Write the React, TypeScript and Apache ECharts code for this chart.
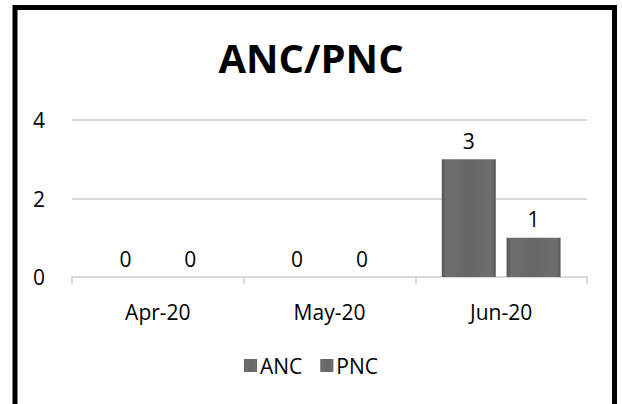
import React, { useEffect, useRef } from "react";
import * as echarts from "echarts";

const categories = ["Apr-20", "May-20", "Jun-20"];
const ancValues = [0, 0, 3];
const pncValues = [0, 0, 1];
const yTicks = { min: 0, max: 4, interval: 2 };

const font = "'Open Sans', 'DejaVu Sans', sans-serif";

const barFill = () =>
  new echarts.graphic.LinearGradient(0, 0, 1, 0, [
    { offset: 0, color: "#555555" },
    { offset: 0.08, color: "#6e6e6e" },
    { offset: 0.5, color: "#676767" },
    { offset: 0.92, color: "#6e6e6e" },
    { offset: 1, color: "#555555" },
  ]);

export default function App() {
  const ref = useRef<HTMLDivElement>(null);
  useEffect(() => {
    if (!ref.current) return;
    const chart = echarts.init(ref.current, undefined, { renderer: "svg" });
    const mkSeries = (name: string, data: number[]) => ({
      name,
      type: "bar",
      data,
      barWidth: 54,
      barGap: "20%",
      itemStyle: { color: barFill() },
      label: {
        show: true,
        position: "top",
        distance: 8,
        fontSize: 21,
        fontFamily: font,
        color: "#000",
      },
    });
    chart.setOption({
      animation: false,
      backgroundColor: "#fff",
      title: {
        text: "ANC/PNC",
        left: "center",
        top: 32,
        textStyle: { fontSize: 40, fontWeight: "bold", fontFamily: font, color: "#000" },
      },
      legend: {
        bottom: 23,
        left: "center",
        itemWidth: 13,
        itemHeight: 13,
        itemGap: 18,
        icon: "rect",
        textStyle: { fontSize: 21, fontFamily: font, color: "#000", padding: [0, 0, 0, -2] },
      },
      grid: { left: 72, right: 35, top: 120, bottom: 127 },
      xAxis: {
        type: "category",
        data: categories,
        axisLine: { lineStyle: { color: "#d9d9d9", width: 2 } },
        axisTick: { show: true, length: 7, lineStyle: { color: "#d9d9d9", width: 2 } },
        axisLabel: { fontSize: 21, fontFamily: font, color: "#000", margin: 24 },
      },
      yAxis: {
        type: "value",
        min: yTicks.min,
        max: yTicks.max,
        interval: yTicks.interval,
        axisLine: { show: false },
        axisTick: { show: false },
        splitLine: { lineStyle: { color: "#d9d9d9", width: 2 } },
        axisLabel: { fontSize: 21, fontFamily: font, color: "#000", margin: 27 },
      },
      series: [mkSeries("ANC", ancValues), mkSeries("PNC", pncValues)],
      graphic: [
        {
          type: "rect",
          shape: { x: 15, y: 7.5, width: 599.5, height: 430 },
          style: { fill: "none", stroke: "#000", lineWidth: 5 },
          silent: true,
          z: 100,
        },
      ],
    });
    return () => chart.dispose();
  }, []);
  return (
    <div
      ref={ref}
      style={{ position: "absolute", left: 0, top: 0, width: 622, height: 404 }}
    />
  );
}
